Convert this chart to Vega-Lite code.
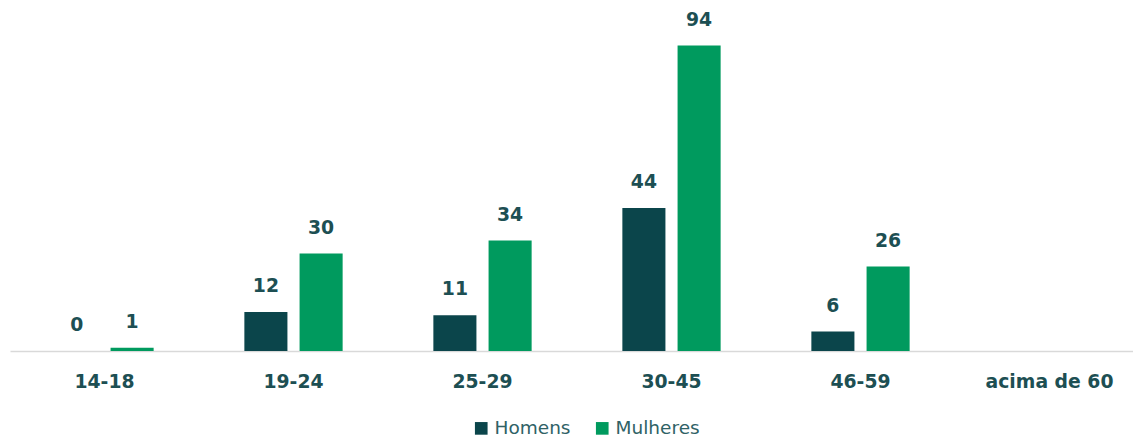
{
  "$schema": "https://vega.github.io/schema/vega-lite/v6.json",
  "autosize": "none",
  "width": 1134,
  "height": 351,
  "padding": {"left": 10, "top": 0, "right": 0, "bottom": 89},
  "background": "white",
  "data": {"values": [
    {"faixa": "14-18", "sexo": "Homens", "valor": 0},
    {"faixa": "14-18", "sexo": "Mulheres", "valor": 1},
    {"faixa": "19-24", "sexo": "Homens", "valor": 12},
    {"faixa": "19-24", "sexo": "Mulheres", "valor": 30},
    {"faixa": "25-29", "sexo": "Homens", "valor": 11},
    {"faixa": "25-29", "sexo": "Mulheres", "valor": 34},
    {"faixa": "30-45", "sexo": "Homens", "valor": 44},
    {"faixa": "30-45", "sexo": "Mulheres", "valor": 94},
    {"faixa": "46-59", "sexo": "Homens", "valor": 6},
    {"faixa": "46-59", "sexo": "Mulheres", "valor": 26}
  ]},
  "encoding": {
    "x": {
      "field": "faixa", "type": "nominal", "sort": null,
      "scale": {"domain": ["14-18", "19-24", "25-29", "30-45", "46-59", "acima de 60"], "paddingInner": 0.48, "paddingOuter": 0.24},
      "axis": {
        "title": null, "labelAngle": 0, "ticks": false,
        "domainColor": "#d9d9d9", "domainWidth": 1.5,
        "labelFont": "DejaVu Sans", "labelFontWeight": "bold", "labelFontSize": 18.8,
        "labelColor": "#1d4f53", "labelPadding": 21
      }
    },
    "xOffset": {"field": "sexo", "type": "nominal", "scale": {"domain": ["Homens", "Mulheres"], "paddingInner": 0.22}},
    "y": {
      "field": "valor", "type": "quantitative",
      "scale": {"domain": [0, 108], "nice": false},
      "axis": null
    }
  },
  "layer": [
    {
      "mark": {"type": "bar"},
      "encoding": {
        "color": {
          "field": "sexo", "type": "nominal",
          "scale": {"domain": ["Homens", "Mulheres"], "range": ["#0b454b", "#009a5e"]},
          "legend": {
            "title": null, "orient": "none", "legendX": 462, "legendY": 419,
            "direction": "horizontal", "symbolType": "square", "symbolSize": 160,
            "symbolStrokeWidth": 0, "labelFont": "DejaVu Sans", "labelFontSize": 18.5,
            "labelColor": "#2f6266", "columnPadding": 22, "labelOffset": 4
          }
        }
      }
    },
    {
      "mark": {"type": "text", "dy": -26, "font": "DejaVu Sans", "fontWeight": "bold", "fontSize": 18.8, "color": "#1d4f53"},
      "encoding": {"text": {"field": "valor", "type": "quantitative"}}
    }
  ],
  "config": {"view": {"stroke": null}}
}
